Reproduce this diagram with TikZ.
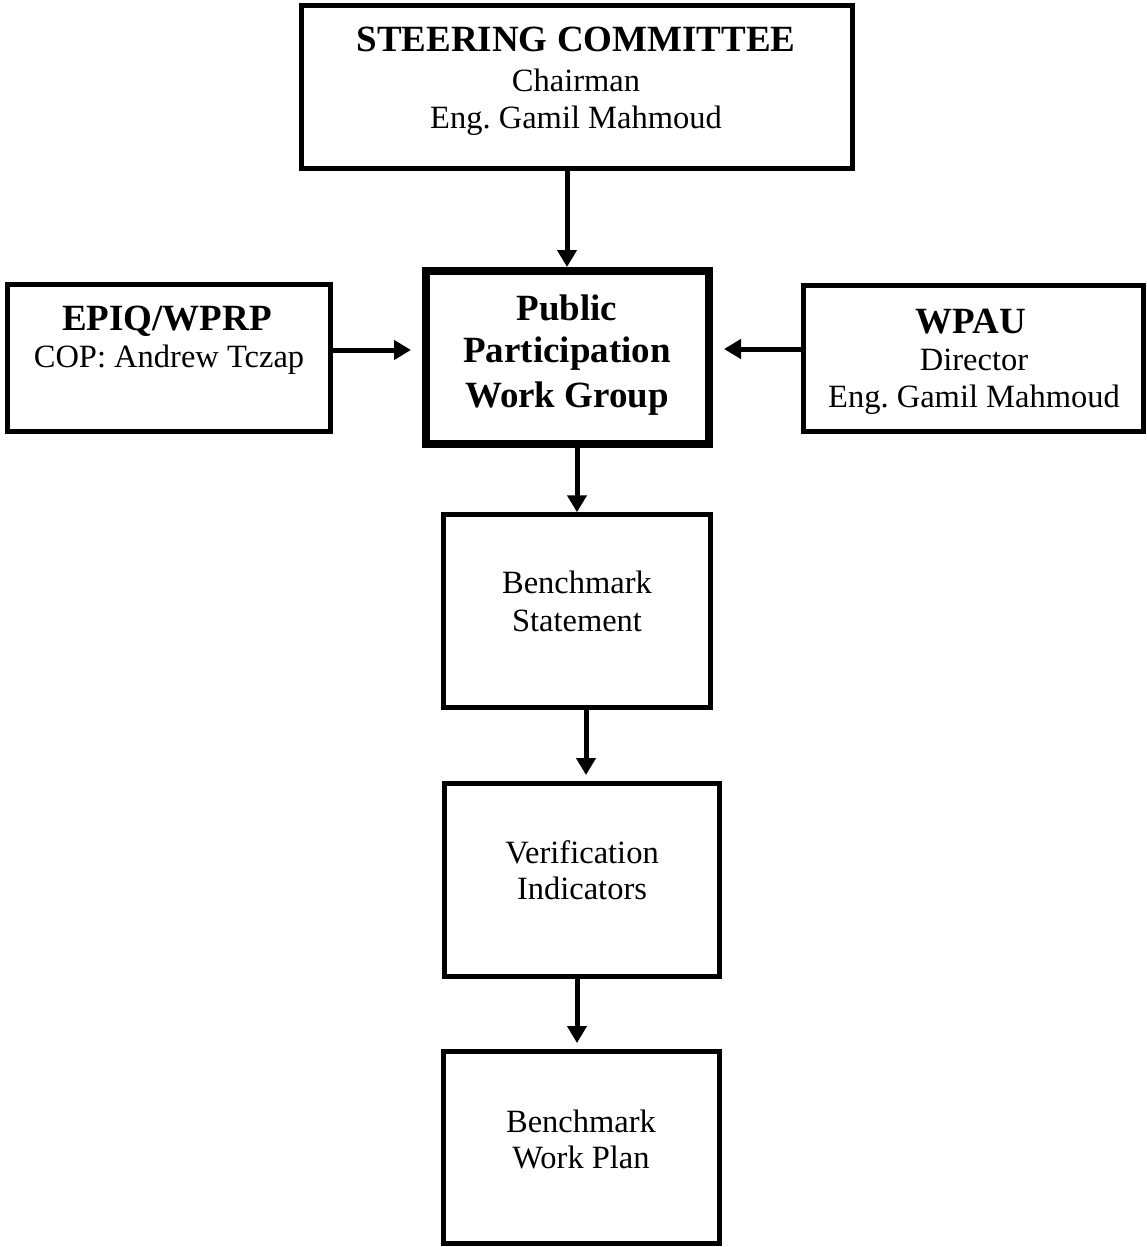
\documentclass[tikz,border=0pt]{standalone}
\usepackage{fontspec}
\setmainfont{Liberation Serif}
\frenchspacing
\usetikzlibrary{arrows.meta}
\begin{document}
\begin{tikzpicture}[x=1pt,y=-1pt,
  box/.style={draw, line width=5pt, inner sep=0pt, fill=white},
  thickbox/.style={box, line width=8pt},
  title/.style={anchor=base, inner sep=0pt, font=\fontsize{37}{42}\selectfont\bfseries},
  body/.style={anchor=base, inner sep=0pt, font=\fontsize{32.5}{37}\selectfont},
  arr/.style={line width=5pt, -{Triangle[length=17pt,width=19pt]}}]
\fill[white] (0,0) rectangle (1147,1247);
\useasboundingbox (0,0) rectangle (1147,1247);

% boxes
\node[box, minimum width=551pt, minimum height=163pt] (sc) at (577,87) {};
\node[box, minimum width=323pt, minimum height=147pt] (epiq) at (169,358) {};
\node[box, minimum width=340pt, minimum height=146pt] (wpau) at (973.5,358.5) {};
\node[thickbox, minimum width=283pt, minimum height=173pt] (ppwg) at (567.5,357.5) {};
\node[box, minimum width=266.5pt, minimum height=192.5pt] (bstat) at (577,611) {};
\node[box, minimum width=275pt, minimum height=193pt] (vind) at (582,880) {};
\node[box, minimum width=276pt, minimum height=192pt] (bwp) at (581.5,1147.5) {};

% texts
\node[title] (sct) at (576,52) {STEERING COMMITTEE};
\node[body] (sc1) at (576,91) {Chairman};
\node[body] (sc2) at (576,128) {Eng. Gamil Mahmoud};

\node[title] (ept) at (167,330) {EPIQ/WPRP};
\node[body] (ep1) at (169,367) {COP: Andrew Tczap};

\node[title] (wat) at (971,333) {WPAU};
\node[body] (wa1) at (974,370) {Director};
\node[body] (wa2) at (974,407) {Eng. Gamil Mahmoud};

\node[title] (pp1) at (567,320) {Public};
\node[title] (pp2) at (567,362) {Participation};
\node[title] (pp3) at (567,407) {Work Group};

\node[body] (bs1) at (577,593) {Benchmark};
\node[body] (bs2) at (577,631) {Statement};

\node[body] (vi1) at (582,863) {Verification};
\node[body] (vi2) at (582,899) {Indicators};

\node[body] (wp1) at (581,1132) {Benchmark};
\node[body] (wp2) at (581,1168) {Work Plan};

% connectors
\draw[arr] (sc.south -| 567,0) -- (ppwg.north -| 567,0);
\draw[arr, shorten >=11pt] (epiq.east |- 0,350) -- (ppwg.west |- 0,350);
\draw[arr, shorten >=11pt] (wpau.west |- 0,349) -- (ppwg.east |- 0,349);
\draw[arr] (ppwg.south -| 577,0) -- (bstat.north -| 577,0);
\draw[arr, shorten >=6pt] (bstat.south -| 586,0) -- (vind.north -| 586,0);
\draw[arr, shorten >=6pt] (vind.south -| 577,0) -- (bwp.north -| 577,0);
\end{tikzpicture}
\end{document}
